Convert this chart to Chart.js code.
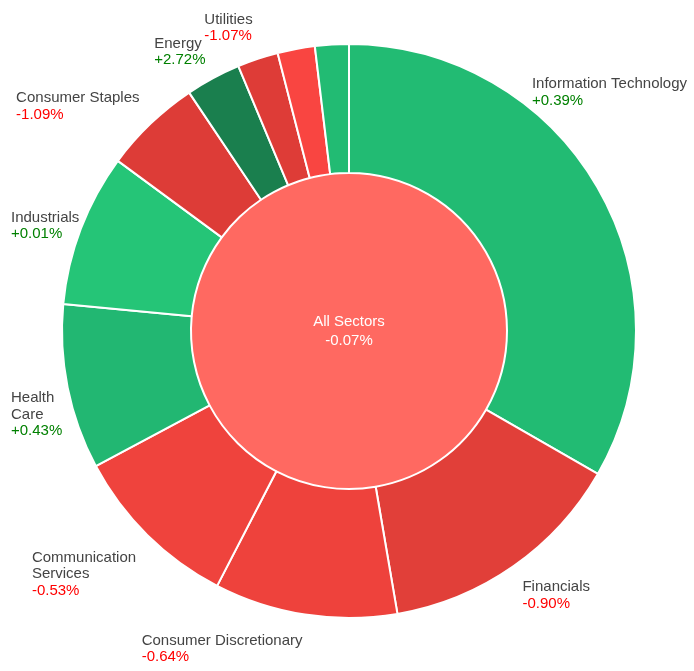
<!DOCTYPE html>
<html>
<head>
<meta charset="utf-8">
<script src="https://cdn.jsdelivr.net/npm/chart.js@4/dist/chart.umd.min.js"></script>
<style>
  html, body { margin: 0; padding: 0; background: #fff; }
  #wrap { width: 694px; height: 671px; }
</style>
</head>
<body>
<div id="wrap"><canvas id="sectorChart" width="694" height="671"></canvas></div>
<script>
// sector weights (share of index) and daily change in %
const sectors = ["Information Technology", "Financials", "Consumer Discretionary",
  "Communication Services", "Health Care", "Industrials", "Consumer Staples",
  "Energy", "Utilities", "Real Estate", "Materials"];
const sectorWeights = [33.3, 14.0, 10.3, 9.6, 9.3, 8.6, 5.5, 3.1, 2.3, 2.1, 1.9];
const sectorChanges = [0.39, -0.90, -0.64, -0.53, 0.43, 0.01, -1.09, 2.72, -1.07, -0.35, 0.40];
const sectorColors = ["#22bb73", "#e13f39", "#ee423c", "#ef433d", "#22b772", "#25c577",
  "#dd3c37", "#1a7f4e", "#de3c37", "#f94541", "#22bb73"];

const totalLabel = "All Sectors";
const totalChange = -0.07;
const totalColor = "#ff6961";

const FONT = '15px "Liberation Sans", Arial, sans-serif';
const LINE_H = 16.5;

function fmtChange(v) {
  return (v < 0 ? "-" : "+") + Math.abs(v).toFixed(2) + "%";
}

function wrapWords(ctx, text, maxW) {
  const words = text.split(" ");
  const lines = [];
  let cur = "";
  words.forEach(word => {
    const test = cur ? cur + " " + word : word;
    if (cur && ctx.measureText(test).width > maxW) {
      lines.push(cur);
      cur = word;
    } else {
      cur = test;
    }
  });
  if (cur) lines.push(cur);
  return lines;
}

// outside labels: name + coloured change, hidden when they collide
const sectorLabels = {
  id: "sectorLabels",
  afterDraw(chart) {
    const ctx = chart.ctx;
    const W = chart.width, H = chart.height;
    const padL = 11, padR = 7;
    const placed = [];
    ctx.save();
    ctx.font = FONT;
    ctx.textAlign = "left";
    ctx.textBaseline = "alphabetic";

    chart.getDatasetMeta(0).data.forEach((arc, i) => {
      const p = arc.getProps(["x", "y", "startAngle", "endAngle", "outerRadius"], true);
      const R = p.outerRadius;
      const mid = (p.startAngle + p.endAngle) / 2;
      const dx = Math.cos(mid), dy = Math.sin(mid);
      const ax = p.x + dx * (R + 16);
      const ayR = p.y + dy * R;
      const value = fmtChange(sectorChanges[i]);

      let lines = [sectors[i]];
      const avail = ax - padL;
      if (dx < 0 && ctx.measureText(sectors[i]).width > avail) lines = wrapWords(ctx, sectors[i], avail);
      let w = ctx.measureText(value).width;
      lines.forEach(l => { w = Math.max(w, ctx.measureText(l).width); });
      const h = (lines.length + 1) * LINE_H;

      let left = dx < 0 ? ax - w : ax;
      let top = dy >= 0 ? ayR + (h / 2) * dy * dy : ayR - 1.1 * h * dy * dy - h / 2;
      const clamped = Math.min(Math.max(left, padL), W - padR - w);
      const shift = Math.abs(clamped - left);
      left = clamped;
      if (shift > w / 2) {
        // moved a long way sideways: slide it along the ring until it clears
        const nx = Math.min(Math.max(p.x, left), left + w) - p.x;
        const need = R + 2;
        if (Math.abs(nx) < need) {
          const off = Math.sqrt(need * need - nx * nx);
          top = dy < 0 ? p.y - off - h : p.y + off;
        }
      }
      if (top < 0 || top + h > H) return;
      const box = { l: left + 3, t: top + 3, r: left + w - 3, b: top + h - 3 };
      if (placed.some(o => box.l < o.r && box.r > o.l && box.t < o.b && box.b > o.t)) return;
      placed.push(box);

      ctx.fillStyle = "#444444";
      lines.forEach((l, k) => ctx.fillText(l, left, top + 14 + k * LINE_H));
      ctx.fillStyle = sectorChanges[i] < 0 ? "#ff0000" : "#008000";
      ctx.fillText(value, left, top + 14 + lines.length * LINE_H);
    });

    const inner = chart.getDatasetMeta(1).data[0];
    ctx.fillStyle = "#ffffff";
    ctx.textAlign = "center";
    ctx.fillText(totalLabel, inner.x, inner.y - 5.5);
    ctx.fillText(fmtChange(totalChange), inner.x, inner.y + 14);
    ctx.restore();
  }
};

const chart = new Chart(document.getElementById("sectorChart").getContext("2d"), {
  type: "pie",
  data: {
    labels: sectors,
    datasets: [
      {
        data: sectorWeights,
        backgroundColor: sectorColors,
        borderColor: "#ffffff",
        borderWidth: 2,
        weight: 129
      },
      {
        data: [sectorWeights.reduce((a, b) => a + b, 0)],
        backgroundColor: [totalColor],
        borderWidth: 0,
        weight: 158
      }
    ]
  },
  options: {
    responsive: false,
    animation: false,
    layout: { padding: { left: 61, right: 57, top: 43, bottom: 52 } },
    plugins: {
      legend: { display: false },
      tooltip: { enabled: false }
    }
  },
  plugins: [sectorLabels]
});
</script>
</body>
</html>
